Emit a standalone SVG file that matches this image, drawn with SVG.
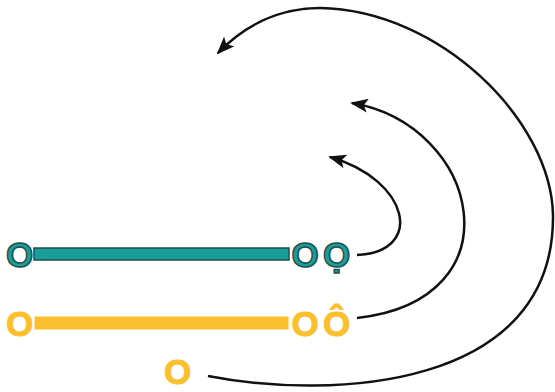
<svg xmlns="http://www.w3.org/2000/svg" width="555" height="392" viewBox="0 0 555 392">
<defs>
<style>
.t{font-family:"Liberation Sans",Arial,sans-serif;font-weight:bold;font-size:35px;text-anchor:middle}
.teal{fill:#1a9e9a;stroke:#1f4f4f;stroke-width:1.5}
.yel{fill:#fbbf2e;stroke:#fbbf2e;stroke-width:1}
.c{fill:none;stroke:#111;stroke-width:2.5}
</style>
<marker id="ah" viewBox="0 0 18 14" refX="16" refY="7" markerWidth="18" markerHeight="14" markerUnits="userSpaceOnUse" orient="auto">
<path d="M0,0 L18,7 L0,14 L4,7 Z" fill="#111"/>
</marker>
</defs>
<rect width="555" height="392" fill="#fff"/>
<g id="teal-row">
<text class="t teal" x="19.5" y="267">O</text>
<rect class="teal" x="34" y="248" width="255" height="12"/>
<text class="t teal" x="305" y="267">O</text>
<text class="t teal" x="336.5" y="267">Ọ</text>
</g>
<g id="yellow-row">
<text class="t yel" x="19.5" y="336">O</text>
<rect class="yel" x="35" y="317" width="253" height="12" stroke="none"/>
<text class="t yel" x="305" y="336">O</text>
<text class="t yel" x="336.5" y="336">Ô</text>
</g>
<g id="bottom">
<text class="t yel" x="177.5" y="384">O</text>
</g>
<g id="connectors">
<path class="c" marker-end="url(#ah)" d="M357,255 C425,252 410,180 330,157"/>
<path class="c" marker-end="url(#ah)" d="M357,318 C520,300 480,125 352,103"/>
<path class="c" marker-end="url(#ah)" d="M208,376 C330,400 555,390 553,215 C551,120 440,10 320,8 C280,8 245,25 218,53"/>
</g>
</svg>
